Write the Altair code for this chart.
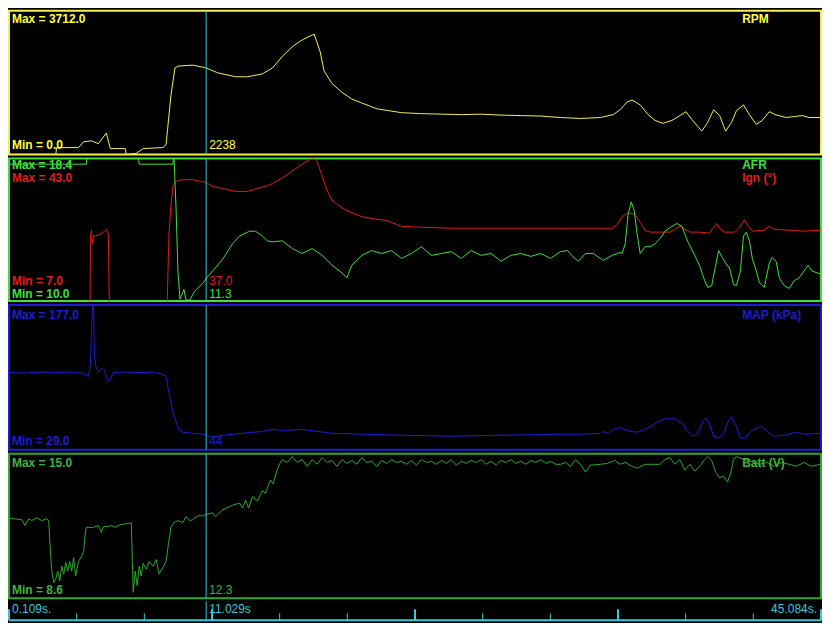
import altair as alt
import pandas as pd

T_START = 0.109
T_END = 45.084
CURSOR_T = 11.029

# (time s, RPM)
rpm = [
    (0.11, 0), (2.70, 0), (2.75, 176), (3.96, 176), (4.24, 326), (4.68, 351), (5.06, 276),
    (5.50, 552), (5.72, 150), (6.55, 150), (6.60, 0), (7.15, 25), (7.54, 150), (8.64, 176),
    (8.81, 251), (8.92, 777), (9.08, 1530), (9.30, 2232), (9.47, 2282), (10.29, 2307),
    (11.01, 2238), (11.67, 2107), (12.66, 2006), (13.32, 2006), (14.15, 2082), (14.70, 2232),
    (15.25, 2533), (15.80, 2784), (16.35, 2959), (16.90, 3085), (17.01, 3110), (17.34, 2658),
    (17.56, 2157), (18.00, 1831), (18.55, 1605), (19.10, 1430), (19.65, 1329), (20.48, 1179),
    (21.85, 1078), (22.95, 1053), (24.06, 1040), (25.16, 1028), (26.26, 1040), (27.36, 1015),
    (28.46, 1003), (29.56, 990), (30.66, 953), (31.76, 928), (32.86, 953), (33.58, 1028),
    (33.96, 1154), (34.35, 1354), (34.62, 1404), (35.07, 1279), (35.51, 1028), (35.89, 878),
    (36.33, 803), (36.83, 878), (37.27, 1003), (37.60, 1104), (37.93, 903), (38.48, 602),
    (38.81, 828), (39.14, 1154), (39.47, 1003), (39.80, 602), (40.13, 828), (40.40, 1129),
    (40.79, 1279), (41.12, 1028), (41.50, 777), (41.83, 878), (42.22, 1104), (42.55, 1028),
    (43.16, 953), (43.60, 978), (44.04, 1003), (44.42, 953), (45.08, 953),
]

# (time s, AFR)
afr = [
    (0.11, 18.06), (3.63, 18.06), (4.40, 18.06), (4.42, 18.6), (7.26, 18.6), (7.32, 18.06),
    (9.19, 18.06), (9.22, 18.4), (9.25, 18.4), (9.36, 15.5), (9.47, 11.66), (9.58, 10.11),
    (9.74, 10.51), (9.80, 10.69), (9.91, 10.06), (10.13, 10.06), (10.35, 10.51), (10.51, 10.69),
    (10.84, 11.03), (11.01, 11.3), (11.39, 11.77), (11.94, 12.46), (12.49, 13.37), (12.88, 13.83),
    (13.43, 14.11), (13.76, 14.11), (14.15, 13.83), (14.42, 13.54), (14.70, 13.49), (15.25, 13.54),
    (15.80, 13.09), (16.35, 12.80), (16.90, 13.09), (17.45, 12.69), (18.00, 12.11), (18.55, 11.66),
    (18.83, 11.37), (19.10, 12.11), (19.65, 12.69), (20.20, 12.97), (20.75, 12.80), (21.30, 12.97),
    (21.85, 12.51), (22.40, 12.80), (22.95, 13.20), (23.51, 12.69), (24.06, 12.80), (24.61, 12.91),
    (25.16, 12.51), (25.71, 12.97), (26.26, 12.69), (26.81, 12.80), (27.36, 12.34), (27.91, 12.69),
    (28.46, 12.80), (29.01, 12.63), (29.56, 12.80), (30.11, 12.51), (30.66, 12.91), (31.05, 12.97),
    (31.32, 12.63), (31.65, 12.34), (32.04, 12.80), (32.48, 12.80), (32.86, 12.51), (33.03, 12.40),
    (33.52, 12.69), (33.80, 12.80), (33.96, 12.86), (34.07, 12.80), (34.24, 13.37), (34.40, 15.09),
    (34.57, 15.83), (34.73, 15.37), (34.90, 13.94), (35.07, 12.80), (35.34, 13.20), (35.62, 13.20),
    (35.89, 13.37), (36.28, 13.83), (36.44, 14.11), (36.83, 14.40), (37.10, 14.57), (37.38, 14.40),
    (37.71, 13.49), (38.09, 12.69), (38.37, 12.06), (38.64, 11.20), (38.81, 10.80), (39.03, 10.91),
    (39.25, 12.11), (39.41, 12.97), (39.58, 12.63), (39.80, 12.23), (40.02, 11.94), (40.24, 10.97),
    (40.40, 10.91), (40.62, 11.77), (40.79, 13.83), (40.95, 14.06), (41.12, 13.54), (41.28, 12.51),
    (41.50, 11.77), (41.67, 11.09), (41.94, 10.80), (42.22, 12.23), (42.38, 12.57), (42.60, 12.34),
    (42.77, 11.37), (43.05, 10.91), (43.32, 10.74), (43.60, 11.20), (43.87, 11.37), (44.15, 11.77),
    (44.37, 12.11), (44.59, 11.77), (44.86, 11.66), (45.08, 11.60),
]

# (time s, ignition advance deg)
ign = [
    (0.11, 5), (4.60, 5), (4.62, 23.41), (4.68, 24.88), (4.73, 21.45), (4.79, 23.41), (4.90, 23.41),
    (5.06, 23.65), (5.34, 24.39), (5.50, 25.12), (5.61, 23.90), (5.67, 5), (8.86, 5), (8.97, 23.90),
    (9.08, 31.25), (9.19, 36.14), (9.30, 37.12), (9.47, 37.37), (9.74, 37.61), (10.29, 37.61),
    (10.84, 37.12), (11.01, 37.0), (11.39, 35.90), (11.94, 35.41), (12.66, 34.67), (13.32, 34.67),
    (13.87, 35.41), (14.42, 36.14), (14.70, 36.63), (15.25, 38.10), (15.80, 39.82), (16.35, 41.53),
    (16.79, 42.76), (17.01, 43.0), (17.17, 42.27), (17.45, 38.59), (17.72, 34.92), (18.00, 32.47),
    (18.55, 30.51), (19.10, 29.29), (19.65, 28.31), (20.20, 27.82), (21.03, 27.33), (21.85, 25.86),
    (22.95, 25.61), (24.61, 25.37), (27.36, 25.37), (30.66, 25.37), (32.86, 25.37), (33.52, 25.37),
    (33.80, 26.35), (34.07, 28.31), (34.40, 29.29), (34.79, 28.80), (35.07, 26.84), (35.34, 24.88),
    (35.62, 24.39), (36.17, 24.39), (36.72, 24.39), (36.99, 25.12), (37.27, 25.86), (37.54, 25.12),
    (37.82, 24.39), (38.37, 24.39), (38.92, 24.14), (39.14, 25.61), (39.30, 26.59), (39.47, 25.37),
    (39.74, 24.39), (40.29, 24.39), (40.62, 25.86), (40.84, 27.57), (41.06, 25.86), (41.28, 24.63),
    (41.94, 24.88), (42.22, 25.86), (42.49, 25.12), (43.32, 24.88), (44.15, 24.63), (45.08, 24.88),
]

# (time s, MAP kPa)
map_kpa = [
    (0.11, 107.9), (0.93, 107.4), (1.93, 108.4), (2.59, 107.9), (3.36, 108.4), (4.13, 107.4),
    (4.51, 104.0), (4.62, 116.8), (4.73, 177.0), (4.79, 176.0), (4.84, 131.6), (4.90, 114.8),
    (5.06, 108.9), (5.23, 111.9), (5.39, 110.9), (5.50, 102.0), (5.67, 99.1), (5.89, 107.9),
    (6.44, 108.4), (7.54, 107.9), (8.09, 108.4), (8.64, 106.0), (8.81, 104.0), (8.97, 87.2),
    (9.19, 67.5), (9.36, 57.6), (9.52, 49.7), (9.74, 46.8), (10.29, 45.8), (10.84, 44.8),
    (11.01, 44.0), (11.39, 41.8), (11.94, 43.8), (13.05, 45.8), (14.15, 47.7), (14.70, 49.7),
    (15.25, 48.7), (16.35, 49.7), (18.00, 45.8), (19.65, 44.8), (21.85, 43.8), (24.61, 42.8),
    (27.36, 43.8), (30.66, 44.8), (31.76, 44.8), (32.86, 45.8), (32.97, 47.7), (33.30, 45.8),
    (33.58, 49.7), (33.96, 51.7), (34.35, 48.7), (34.79, 46.8), (35.23, 48.7), (35.73, 53.7),
    (36.17, 58.6), (36.44, 60.6), (36.99, 60.6), (37.38, 56.6), (37.71, 47.7), (37.98, 42.8),
    (38.26, 44.8), (38.53, 57.6), (38.70, 61.6), (38.92, 54.7), (39.14, 42.8), (39.47, 40.8),
    (39.69, 45.8), (39.96, 58.6), (40.13, 62.5), (40.40, 52.7), (40.62, 40.8), (40.90, 40.8),
    (41.23, 48.7), (41.78, 52.7), (42.11, 47.7), (42.49, 42.8), (43.05, 43.8), (43.71, 46.8),
    (44.15, 44.8), (45.08, 45.8),
]

# (time s, battery V)
batt = [
    (0.11, 12.12), (0.38, 12.12), (0.82, 12.08), (0.99, 11.82), (1.21, 12.12), (1.37, 12.04),
    (1.65, 12.16), (1.93, 12.04), (2.20, 12.12), (2.31, 12.04), (2.37, 11.09), (2.48, 9.80),
    (2.59, 9.29), (2.70, 9.46), (2.81, 9.80), (2.92, 9.37), (3.03, 10.02), (3.14, 9.67),
    (3.25, 10.19), (3.36, 9.80), (3.47, 10.23), (3.58, 9.80), (3.69, 10.40), (3.80, 9.59),
    (3.96, 10.23), (4.13, 10.45), (4.24, 10.66), (4.35, 11.61), (4.40, 11.74), (4.79, 11.74),
    (5.06, 11.82), (5.23, 11.52), (5.34, 11.78), (5.61, 11.78), (5.78, 11.82), (6.00, 11.74),
    (6.27, 11.86), (6.71, 11.91), (6.88, 11.95), (6.94, 10.23), (6.99, 8.86), (7.10, 9.80),
    (7.21, 9.16), (7.32, 10.02), (7.43, 9.59), (7.54, 10.15), (7.71, 9.89), (7.87, 10.23),
    (8.09, 10.02), (8.26, 10.32), (8.42, 9.67), (8.64, 9.97), (8.81, 10.23), (8.92, 10.88),
    (9.08, 11.74), (9.25, 11.95), (9.47, 12.04), (9.74, 11.95), (9.91, 12.21), (10.13, 12.04),
    (10.29, 12.08), (10.57, 12.25), (10.84, 12.25), (11.01, 12.3), (11.39, 12.38), (11.55, 12.21),
    (11.94, 12.51), (12.49, 12.72), (12.88, 12.81), (13.05, 12.59), (13.21, 12.94), (13.38, 12.59),
    (13.60, 13.11), (13.87, 12.90), (14.15, 13.37), (14.31, 13.24), (14.59, 13.84), (14.74, 13.67),
    (14.97, 14.31), (15.14, 14.61), (15.25, 14.74), (15.52, 14.61), (15.80, 14.87), (16.07, 14.61),
    (16.35, 14.74), (16.62, 14.44), (16.90, 14.74), (17.17, 14.53), (17.45, 14.83), (17.72, 14.61),
    (18.00, 14.70), (18.28, 14.44), (18.55, 14.74), (18.83, 14.57), (19.10, 14.70), (19.38, 14.53),
    (19.65, 14.83), (19.93, 14.61), (20.20, 14.66), (20.48, 14.44), (20.75, 14.70), (21.03, 14.57),
    (21.30, 14.74), (21.58, 14.61), (21.85, 14.66), (22.13, 14.53), (22.40, 14.70), (22.68, 14.49),
    (22.95, 14.74), (23.23, 14.61), (23.51, 14.66), (23.78, 14.53), (24.06, 14.70), (24.34, 14.57),
    (24.61, 14.74), (24.89, 14.49), (25.16, 14.66), (25.44, 14.57), (25.71, 14.70), (25.99, 14.61),
    (26.26, 14.74), (26.54, 14.53), (26.81, 14.66), (27.09, 14.49), (27.36, 14.70), (27.64, 14.61),
    (27.91, 14.74), (28.19, 14.57), (28.46, 14.66), (28.74, 14.53), (29.01, 14.70), (29.29, 14.61),
    (29.56, 14.74), (29.84, 14.57), (30.11, 14.66), (30.39, 14.53), (30.66, 14.53), (30.94, 14.61),
    (31.21, 14.44), (31.49, 14.74), (31.76, 14.53), (32.04, 14.18), (32.31, 14.49), (32.86, 14.53),
    (33.25, 14.57), (33.69, 14.70), (33.96, 14.53), (34.24, 14.61), (34.62, 14.44), (34.90, 14.36),
    (35.34, 14.53), (36.17, 14.53), (36.44, 14.74), (36.72, 14.83), (36.99, 14.53), (37.27, 14.74),
    (37.54, 14.27), (37.82, 14.53), (38.09, 14.23), (38.37, 14.44), (38.64, 14.74), (38.81, 14.87),
    (39.03, 14.70), (39.25, 14.18), (39.47, 13.93), (39.69, 14.01), (39.91, 13.75), (40.07, 14.10),
    (40.24, 14.74), (40.40, 14.87), (40.84, 14.74), (41.23, 14.66), (41.67, 14.53), (42.11, 14.61),
    (42.49, 14.44), (42.88, 14.61), (43.32, 14.53), (43.71, 14.44), (44.15, 14.61), (44.53, 14.44),
    (45.08, 14.53),
]

tick_times = [0.109, 3.857, 7.605, 11.353, 15.101, 18.849, 22.597, 26.344,
              30.092, 33.840, 37.588, 41.336, 45.084]
tick_major = [True, False, False, True, False, False, True, False, False, True, False, False, True]

W = 814
FONT = "Liberation Sans"
YELLOW = "#f4f050"
GREEN = "#3ee03e"
RED = "#e01c1c"
BLUE = "#1c1cd8"
DKGREEN = "#2ea82e"
CYAN = "#38c8dc"

xs = alt.Scale(domain=[T_START, T_END], nice=False, zero=False)
one = pd.DataFrame({"k": [0]})


def frame(pairs):
    return pd.DataFrame(pairs, columns=["t", "v"])


def trace(pairs, color, lo, hi):
    return alt.Chart(frame(pairs)).mark_line(color=color, strokeWidth=1, clip=True).encode(
        x=alt.X("t:Q", scale=xs, axis=None),
        y=alt.Y("v:Q", scale=alt.Scale(domain=[lo, hi], nice=False, zero=False), axis=None),
    )


def label(text, x, y, color, bold=True, align="left", size=12):
    return alt.Chart(one).mark_text(
        text=text, color=color, font=FONT, fontSize=size,
        fontWeight="bold" if bold else "normal", align=align, baseline="middle",
    ).encode(x=alt.value(x), y=alt.value(y))


def cursor_label(text, y, color, size=12):
    return alt.Chart(one).mark_text(
        text=text, color=color, font=FONT, fontSize=size, align="left",
        baseline="middle", dx=3,
    ).encode(x=alt.datum(CURSOR_T), y=alt.value(y))


def cursor():
    return alt.Chart(one).mark_rule(color=CYAN, strokeWidth=1).encode(x=alt.datum(CURSOR_T))


def view(stroke):
    return alt.ViewBackground(fill="black", stroke=stroke, strokeWidth=2)


H1, H2, H3, H4, H5 = 144, 143, 145, 145, 20
RX = 735

p1 = alt.layer(
    trace(rpm, YELLOW, 0, 3712),
    cursor(),
    label("Max = 3712.0", 3, 8, "#ffff40"),
    label("Min = 0.0", 3, H1 - 9, "#ffff40"),
    label("RPM", RX, 8, "#ffff40"),
    cursor_label("2238", H1 - 9, "#ffff40"),
).properties(width=W, height=H1, view=view(YELLOW))

p2 = alt.layer(
    trace(ign, RED, 7, 43),
    trace(afr, GREEN, 10, 18.4),
    cursor(),
    label("Max = 18.4", 3, 7, GREEN),
    label("Max = 43.0", 3, 20, RED),
    label("Min = 7.0", 3, H2 - 20, RED),
    label("Min = 10.0", 3, H2 - 7, GREEN),
    label("AFR", RX, 7, GREEN),
    label("Ign (°)", RX, 20, RED),
    cursor_label("37.0", H2 - 20, RED),
    cursor_label("11.3", H2 - 7, GREEN),
).resolve_scale(y="independent").properties(width=W, height=H2, view=view(GREEN))

p3 = alt.layer(
    trace(map_kpa, BLUE, 29, 177),
    cursor(),
    label("Max = 177.0", 3, 10, BLUE),
    label("Min = 29.0", 3, H3 - 9, BLUE),
    label("MAP (kPa)", RX, 10, BLUE),
    cursor_label("44", H3 - 9, BLUE),
).properties(width=W, height=H3, view=view(BLUE))

p4 = alt.layer(
    trace(batt, DKGREEN, 8.6, 15.0),
    cursor(),
    label("Max = 15.0", 3, 9, "#3cb43c"),
    label("Min = 8.6", 3, H4 - 8, "#3cb43c"),
    label("Batt (V)", RX, 9, "#3cb43c"),
    cursor_label("12.3", H4 - 8, "#3cb43c"),
).properties(width=W, height=H4, view=view(DKGREEN))

ticks = pd.DataFrame({"t": tick_times, "major": tick_major})
minor_ticks = alt.Chart(ticks).transform_filter("!datum.major").mark_rule(
    color=CYAN, strokeWidth=1).encode(
    x=alt.X("t:Q", scale=xs, axis=None), y=alt.value(12), y2=alt.value(19))
major_ticks = alt.Chart(ticks).transform_filter("datum.major").mark_rule(
    color=CYAN, strokeWidth=2).encode(
    x=alt.X("t:Q", scale=xs, axis=None), y=alt.value(8), y2=alt.value(19))
base_line = alt.Chart(one).mark_rule(color=CYAN, strokeWidth=2).encode(
    x=alt.value(0), x2=alt.value(W), y=alt.value(19))

p5 = alt.layer(
    minor_ticks, major_ticks, base_line, cursor(),
    label("0.109s.", 3, 8, CYAN, bold=False, size=12),
    cursor_label("11.029s", 8, CYAN),
    label("45.084s.", W - 4, 8, CYAN, bold=False, align="right", size=12),
).properties(width=W, height=H5, view=alt.ViewBackground(fill="black", stroke="black", strokeWidth=0))

chart = alt.vconcat(p1, p2, p3, p4, p5, spacing=0).properties(
    background="black", padding=0
)

chart.save("out.html", embed_options={"renderer": "svg", "actions": False})
